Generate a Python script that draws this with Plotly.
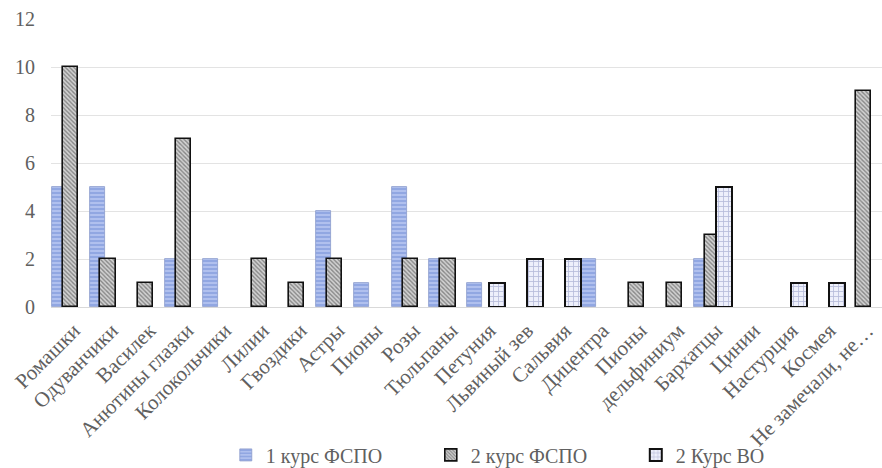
import plotly.graph_objects as go

# Flower names shown along the x axis (note: "Пионы" appears twice)
flowers = [
    "Ромашки", "Одуванчики", "Василек", "Анютины глазки", "Колокольчики",
    "Лилии", "Гвоздики", "Астры", "Пионы", "Розы", "Тюльпаны", "Петуния",
    "Львиный зев", "Сальвия", "Дицентра", "Пионы", "дельфиниум", "Бархатцы",
    "Цинии", "Настурция", "Космея", "Не замечали, не…",
]

# Number of mentions per group
kurs1_fspo = [5, 5, 0, 2, 2, 0, 0, 4, 1, 5, 2, 1, 0, 0, 2, 0, 0, 2, 0, 0, 0, 0]
kurs2_fspo = [10, 2, 1, 7, 0, 2, 1, 2, 0, 2, 2, 0, 0, 0, 0, 1, 1, 3, 0, 0, 0, 9]
kurs2_vo = [0, 0, 0, 0, 0, 0, 0, 0, 0, 0, 0, 1, 2, 2, 0, 0, 0, 5, 0, 1, 1, 0]

series_names = ["1 курс ФСПО", "2 курс ФСПО", "2 Курс ВО"]

x = list(range(len(flowers)))
serif = "Liberation Serif, Times New Roman, serif"
text_grey = "#606060"


def nonzero(values):
    # zero counts get no bar at all (avoids a flat outline on the axis)
    return [v if v else None for v in values]


fig = go.Figure()

# Slightly overlapping bars, drawn left to right so the later ones sit on top
fig.add_trace(go.Bar(
    x=x, y=nonzero(kurs1_fspo), name=series_names[0],
    width=0.40, offset=-0.48,
    marker=dict(
        color="#a2b4e8",
        line=dict(color="#8a9acb", width=0.8),
        pattern=dict(shape="-", bgcolor="#b0c0ee", fgcolor="#5677cc",
                     size=4, solidity=0.35),
    ),
))
fig.add_trace(go.Bar(
    x=x, y=nonzero(kurs2_fspo), name=series_names[1],
    width=0.40, offset=-0.19,
    marker=dict(
        color="#bdbdbd",
        line=dict(color="#111111", width=1.6),
        pattern=dict(shape="\\", bgcolor="#d2d2d2", fgcolor="#3a3a3a",
                     size=3, solidity=0.45),
    ),
))
fig.add_trace(go.Bar(
    x=x, y=nonzero(kurs2_vo), name=series_names[2],
    width=0.42, offset=0.10,
    marker=dict(
        color="#e6eaf8",
        line=dict(color="#111111", width=2),
        pattern=dict(shape="+", bgcolor="#eef0fb", fgcolor="#7d86b8",
                     size=5, solidity=0.3),
    ),
))

fig.update_layout(
    barmode="overlay",
    width=882, height=468,
    margin=dict(l=51, r=0, t=19, b=161, autoexpand=False),
    paper_bgcolor="white",
    plot_bgcolor="white",
    font=dict(family=serif, color=text_grey, size=18),
    showlegend=True,
    legend=dict(
        orientation="h",
        xref="container", yref="container",
        x=0.256, y=0.028, xanchor="left", yanchor="middle",
        entrywidth=160, entrywidthmode="pixels",
        font=dict(family=serif, size=20, color=text_grey),
        bgcolor="rgba(0,0,0,0)",
    ),
    bargap=0,
)

fig.update_xaxes(
    range=[-0.5, len(flowers) - 0.5],
    tickmode="array", tickvals=x, ticktext=flowers,
    tickangle=-45,
    tickfont=dict(family=serif, size=21, color=text_grey),
    ticklabelshift=4,
    showgrid=False,
    showline=True, linecolor="#d9d9d9", linewidth=1,
    ticks="outside", ticklen=2, tickcolor="rgba(0,0,0,0)",
    zeroline=False,
    automargin=False,
)
fig.update_yaxes(
    range=[0, 12], dtick=2,
    tickfont=dict(family=serif, size=20, color=text_grey),
    showgrid=True, gridcolor="#e3e3e3", gridwidth=1,
    zeroline=False,
    ticks="outside", ticklen=11, tickcolor="rgba(0,0,0,0)",
    automargin=False,
)

fig.write_html("out.html")
